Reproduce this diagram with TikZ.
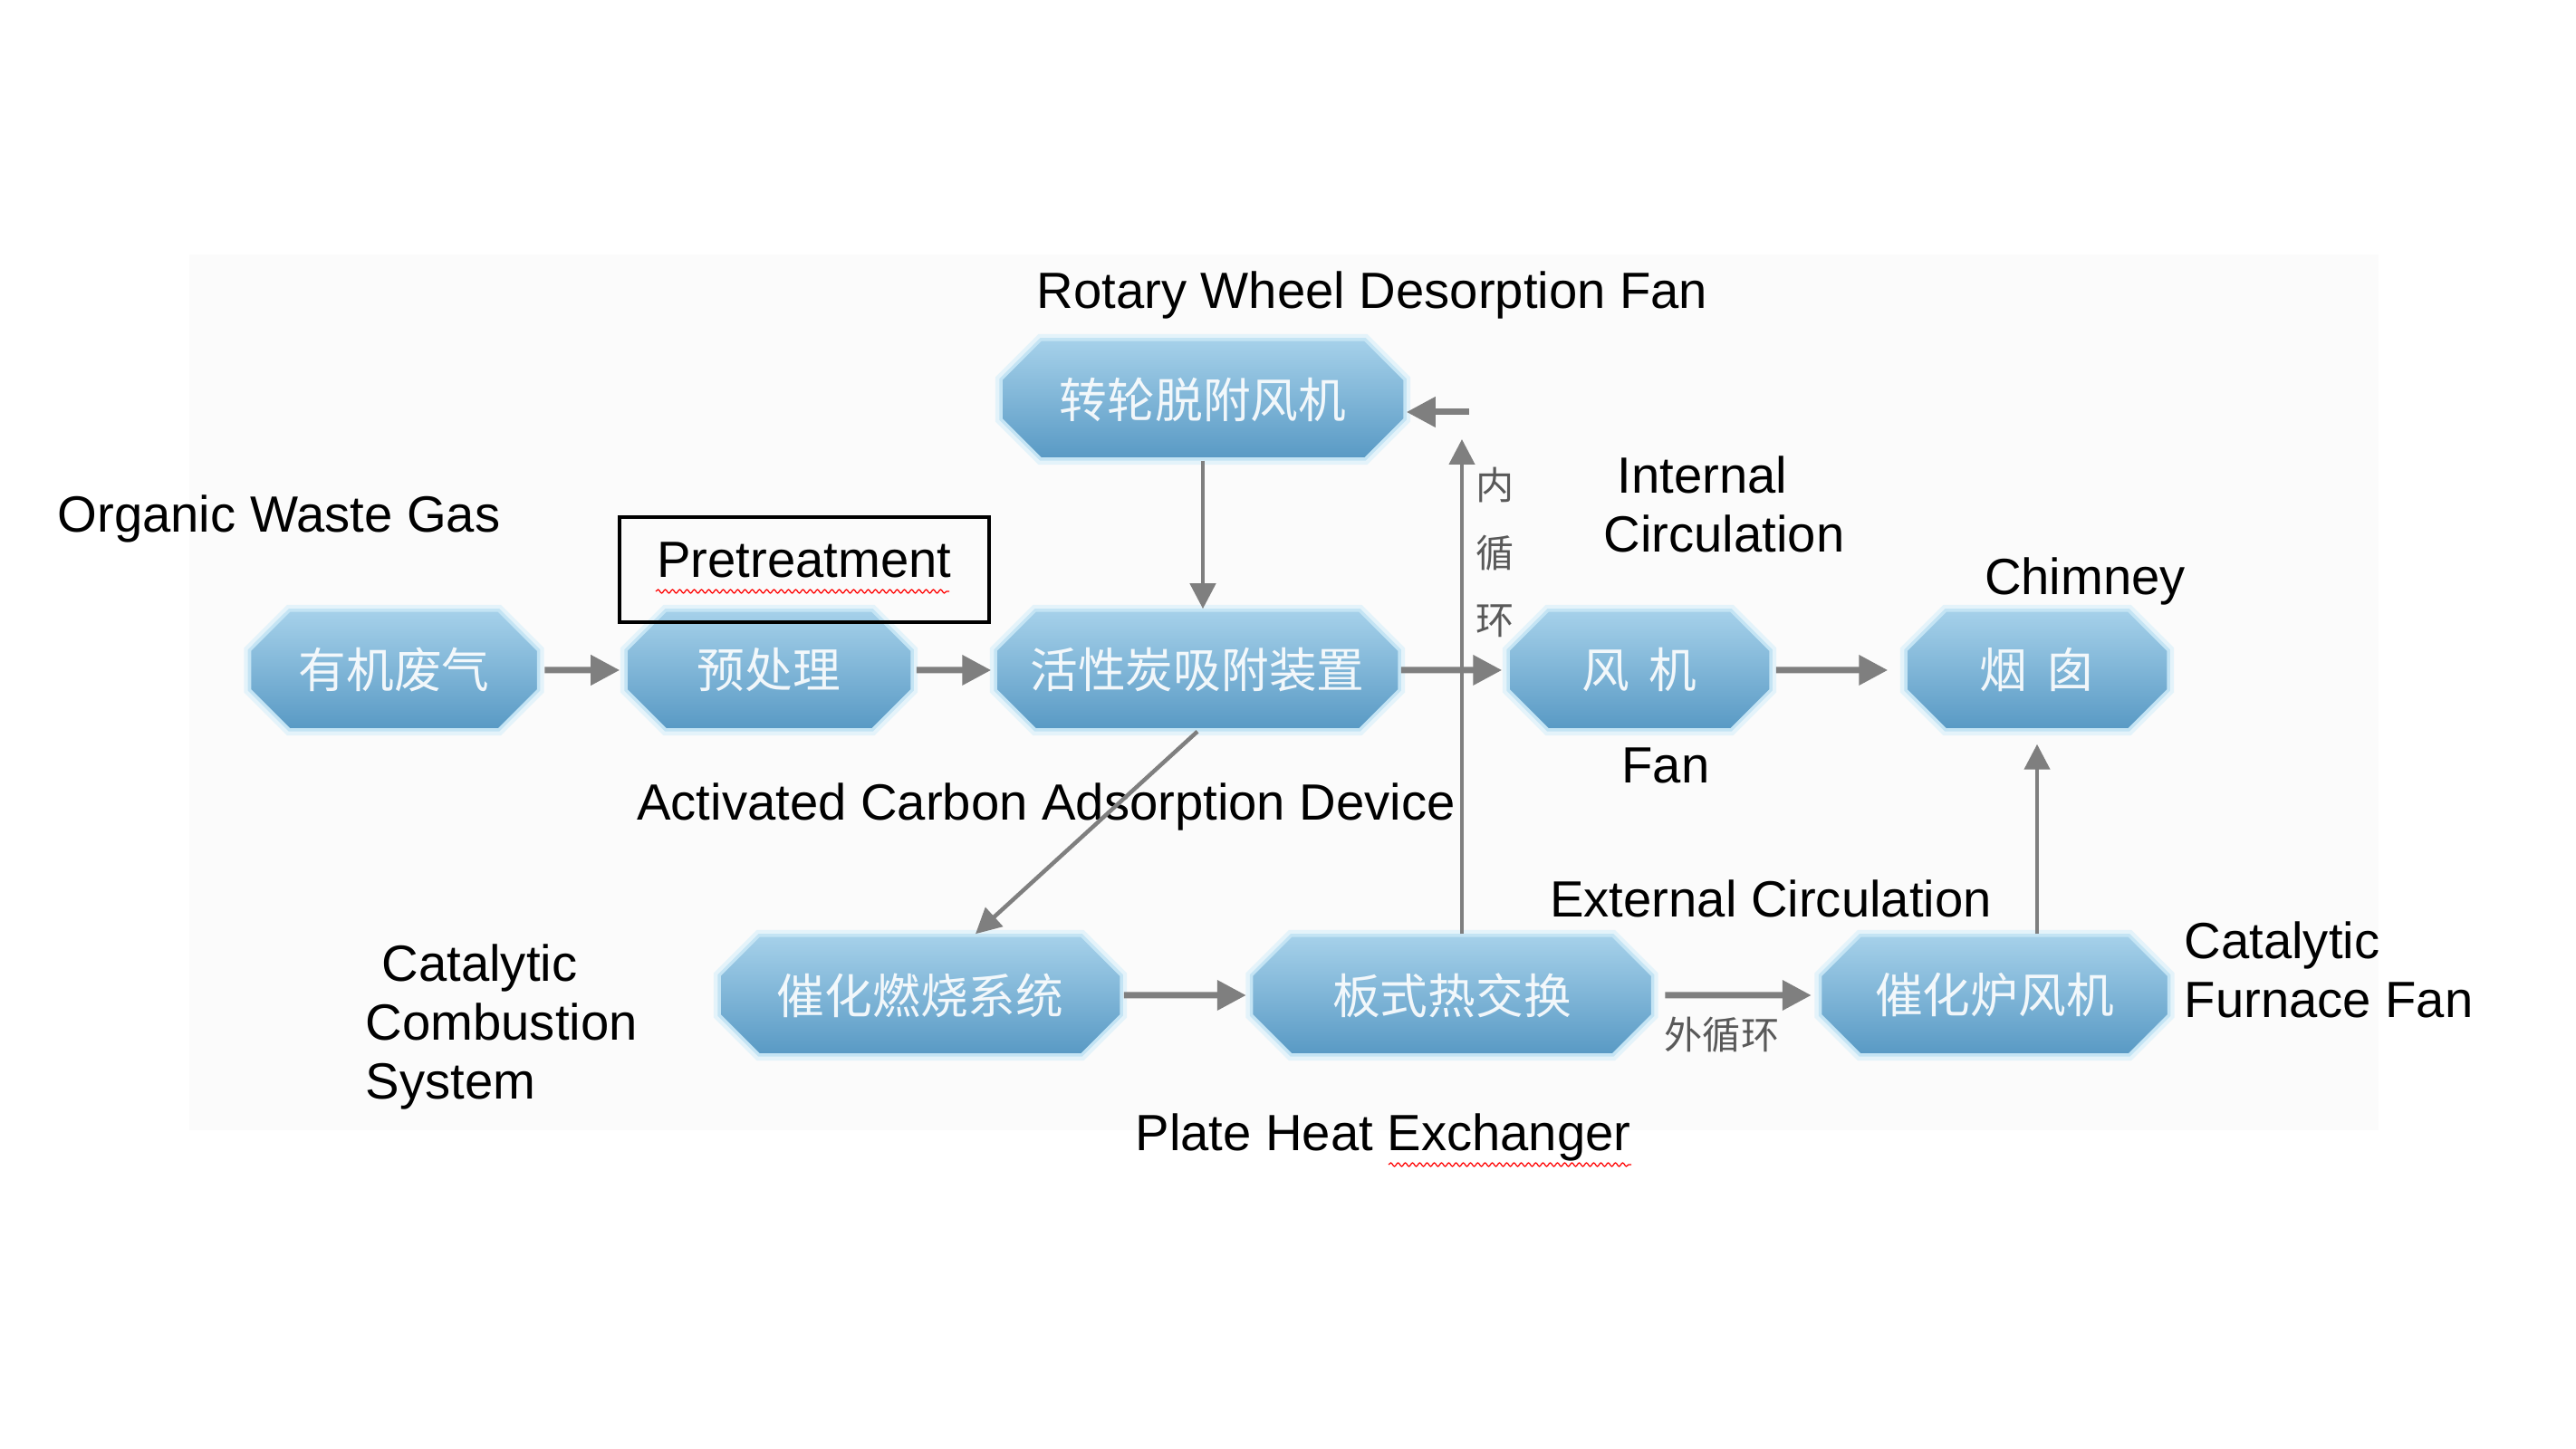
\documentclass[tikz,border=0pt]{standalone}
\usepackage{fontspec}
\setmainfont{Liberation Sans}
\newfontfamily\cjk{Noto Sans CJK SC}
\usetikzlibrary{arrows.meta,shapes.misc,decorations.pathmorphing}

\definecolor{stagetop}{HTML}{A6D1EA}
\definecolor{stagemid}{HTML}{7DB7D9}
\definecolor{stagebot}{HTML}{5899C4}
\definecolor{stageedge}{HTML}{C4E4F4}
\definecolor{pipegray}{HTML}{7F7F7F}

\begin{document}
\begin{tikzpicture}[
    stage/.style={chamfered rectangle,chamfered rectangle xsep=2.2mm,chamfered rectangle ysep=2.2mm,inner sep=0pt,
        minimum height=13.2mm,top color=stagetop,middle color=stagemid,bottom color=stagebot,
        draw=stageedge,line width=1pt,preaction={draw=stageedge!45,line width=3.5pt},
        text=white,text opacity=0.9,font=\cjk\fontsize{15}{18}\selectfont},
    feed/.style={draw=pipegray,line width=0.7mm,-{Triangle[length=3.2mm,width=3.2mm]}},
    duct/.style={draw=pipegray,line width=0.45mm,-{Triangle[length=2.8mm,width=2.8mm]}},
    caption/.style={font=\fontsize{16}{18.5}\selectfont,align=left,inner sep=0pt},
    small/.style={font=\cjk\fontsize{12}{21.3}\selectfont,text=black!65,align=center,inner sep=0pt}
]
\useasboundingbox (0,0) rectangle (28.44,16);
\fill[black!1.5] (2.09,3.52) rectangle (26.26,13.19);

% process stages
\node[stage,minimum width=3.19cm] (organic) at (4.35,8.60) {有机废气};
\node[stage,minimum width=3.16cm] (pretreat) at (8.49,8.60) {预处理};
\node[stage,minimum width=4.46cm] (adsorb) at (13.22,8.60) {活性炭吸附装置};
\node[stage,minimum width=2.90cm] (fan) at (18.10,8.60) {风\hspace{0.4em}机};
\node[stage,minimum width=2.90cm] (chimney) at (22.49,8.60) {烟\hspace{0.4em}囱};
\node[stage,minimum width=4.46cm] (wheel) at (13.28,11.59) {转轮脱附风机};
\node[stage,minimum width=4.44cm] (combust) at (10.16,5.01) {催化燃烧系统};
\node[stage,minimum width=4.43cm] (exchanger) at (16.03,5.01) {板式热交换};
\node[stage,minimum width=3.85cm] (furnacefan) at (22.02,5.01) {催化炉风机};

% english names
\node[caption] (tWheel) at (15.15,12.74) {Rotary Wheel Desorption Fan};
\node[caption] (tOrganic) at (3.08,10.27) {Organic Waste Gas};
\node[caption,draw,line width=1pt,minimum width=4.08cm,minimum height=1.16cm,text depth=2.1mm] (tPretreat) at (8.88,9.71) {Pretreatment};
\node[caption,anchor=west] (tInternal) at (17.70,10.43) {\hspace*{1.5mm}Internal\\Circulation};
\node[caption] (tChimney) at (23.02,9.58) {Chimney};
\node[caption] (tAdsorb) at (11.55,7.09) {Activated Carbon Adsorption Device};
\node[caption] (tFan) at (18.39,7.55) {Fan};
\node[caption] (tExternal) at (19.55,6.08) {External Circulation};
\node[caption,anchor=west] (tCombust) at (4.03,4.66) {\hspace*{1.8mm}Catalytic\\Combustion\\System};
\node[caption,anchor=west] (tFurnace) at (24.11,5.29) {Catalytic\\Furnace Fan};
\node[caption] (tExchanger) at (15.27,3.44) {Plate Heat Exchanger};
\node[small] (inner) at (16.51,9.90) {内\\循\\环};
\node[small] (outer) at (19.01,4.57) {外循环};

% spell check marks
\draw[red,line width=0.35pt,decorate,decoration={snake,amplitude=0.2mm,segment length=0.8mm}] (7.24,9.47) -- (10.48,9.47);
\draw[red,line width=0.35pt,decorate,decoration={snake,amplitude=0.2mm,segment length=0.8mm}] (15.33,3.14) -- (18.01,3.14);

% flows
\draw[feed,shorten <=0.5mm,shorten >=0.5mm] (organic) -- (pretreat);
\draw[feed,shorten <=0.3mm,shorten >=0.3mm] (pretreat) -- (adsorb);
\draw[feed,shorten >=0.5mm] (adsorb) -- (fan);
\draw[feed,shorten <=0.4mm,shorten >=1.8mm] (fan) -- (chimney);
\draw[feed,shorten <=0.1mm,shorten >=0.4mm] (combust) -- (exchanger);
\draw[feed,shorten <=1.2mm,shorten >=0.8mm] (exchanger) -- (furnacefan);
\draw[duct] (wheel.south) -- (wheel.south |- adsorb.north);
\draw[duct] (adsorb.south) -- ([xshift=6.1mm]combust.north);
\draw[duct,shorten >=1.4mm] (chimney.south |- furnacefan.north) -- (chimney.south);
\coordinate (upend) at (16.14,11.15);
\coordinate (inret) at (16.22,11.45);
\draw[duct] (exchanger.north -| upend) -- (upend);
\draw[feed] (inret) -- (inret -| wheel.east);
\end{tikzpicture}
\end{document}
